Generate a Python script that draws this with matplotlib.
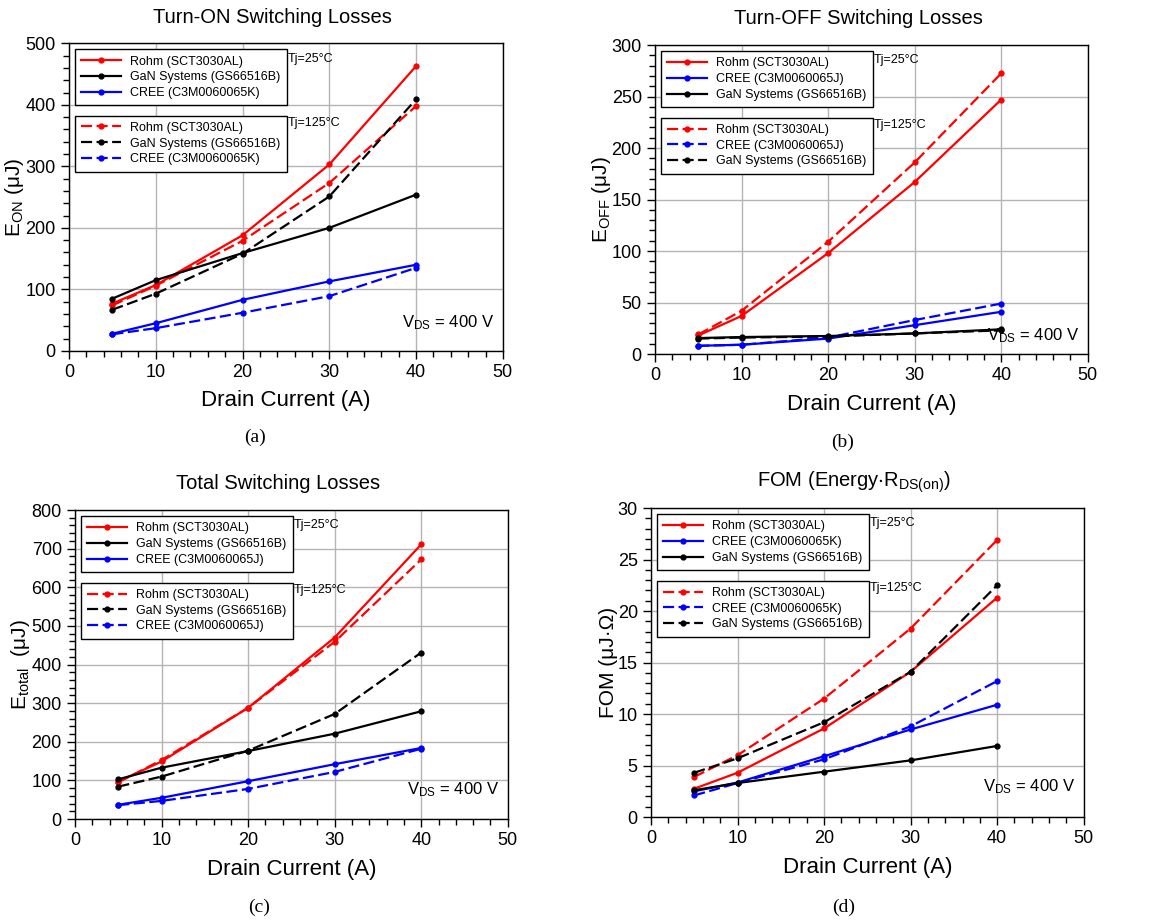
import matplotlib
matplotlib.use('Agg')
import matplotlib.pyplot as plt
from matplotlib.ticker import MultipleLocator

plt.rcParams['font.family'] = ['Liberation Sans', 'DejaVu Sans']
plt.rcParams['mathtext.fontset'] = 'custom'
plt.rcParams['mathtext.rm'] = 'Liberation Sans'
plt.rcParams['mathtext.it'] = 'Liberation Sans:italic'
plt.rcParams['mathtext.default'] = 'regular'

# drain current points
current = [5, 10, 20, 30, 40]

# (a) turn-on losses, uJ
eon_rohm_25 = [77, 107, 188, 303, 463]
eon_gan_25 = [85, 115, 159, 200, 254]
eon_cree_25 = [28, 45, 83, 113, 140]
eon_rohm_125 = [74, 106, 179, 273, 398]
eon_gan_125 = [67, 93, 158, 251, 409]
eon_cree_125 = [27, 37, 62, 89, 135]

# (b) turn-off losses, uJ
eoff_rohm_25 = [18, 37, 98, 167, 247]
eoff_cree_25 = [8, 9, 15, 28, 41]
eoff_gan_25 = [15.5, 16.5, 17.5, 20, 24]
eoff_rohm_125 = [19, 42, 109, 186, 272.5]
eoff_cree_125 = [8, 9, 16, 33, 49]
eoff_gan_125 = [15, 16, 17, 20, 23]

# (c) total losses, uJ
etot_rohm_25 = [97, 149, 288, 470, 711]
etot_gan_25 = [103, 133, 176, 221, 279]
etot_cree_25 = [37, 55, 98, 142, 184]
etot_rohm_125 = [95, 153, 288, 459, 672]
etot_gan_125 = [84, 110, 177, 272, 431]
etot_cree_125 = [36, 47, 78, 122, 182]

# (d) FOM, uJ*Ohm
fom_rohm_25 = [2.75, 4.3, 8.6, 14.1, 21.3]
fom_cree_25 = [2.5, 3.35, 5.9, 8.5, 10.9]
fom_gan_25 = [2.6, 3.3, 4.4, 5.5, 6.9]
fom_rohm_125 = [3.9, 6.0, 11.5, 18.3, 26.9]
fom_cree_125 = [2.1, 3.3, 5.6, 8.8, 13.2]
fom_gan_125 = [4.3, 5.7, 9.2, 14.1, 22.5]

RED = '#ff0000'
BLUE = '#0000ff'
BLACK = '#000000'

fig = plt.figure(figsize=(11.6, 9.21), dpi=100)

rects = [[0.0595, 0.619, 0.374, 0.334],
         [0.5647, 0.6156, 0.373, 0.3355],
         [0.0647, 0.1107, 0.373, 0.3355],
         [0.5612, 0.1129, 0.373, 0.3355]]

panels = [
    dict(title='Turn-ON Switching Losses', ylabel=r'E$_{\mathrm{ON}}$ (μJ)', ylim=500, major=100, minor=20,
         ylx=-0.10, vy=0.06,
         series=[('Rohm (SCT3030AL)', RED, eon_rohm_25, eon_rohm_125),
                 ('GaN Systems (GS66516B)', BLACK, eon_gan_25, eon_gan_125),
                 ('CREE (C3M0060065K)', BLUE, eon_cree_25, eon_cree_125)]),
    dict(title='Turn-OFF Switching Losses', ylabel=r'E$_{\mathrm{OFF}}$ (μJ)', ylim=300, major=50, minor=10,
         ylx=-0.097, vy=0.03,
         series=[('Rohm (SCT3030AL)', RED, eoff_rohm_25, eoff_rohm_125),
                 ('CREE (C3M0060065J)', BLUE, eoff_cree_25, eoff_cree_125),
                 ('GaN Systems (GS66516B)', BLACK, eoff_gan_25, eoff_gan_125)]),
    dict(title='Total Switching Losses', ylabel=r'E$_{\mathrm{total}}$  (μJ)', ylim=800, major=100, minor=20,
         ylx=-0.099, vy=0.065,
         series=[('Rohm (SCT3030AL)', RED, etot_rohm_25, etot_rohm_125),
                 ('GaN Systems (GS66516B)', BLACK, etot_gan_25, etot_gan_125),
                 ('CREE (C3M0060065J)', BLUE, etot_cree_25, etot_cree_125)]),
    dict(title=r'FOM (Energy$\cdot$R$_{\mathrm{DS(on)}}$)', ylabel='FOM (μJ·Ω)', ylim=30, major=5, minor=1,
         ylx=-0.076, vy=0.068,
         series=[('Rohm (SCT3030AL)', RED, fom_rohm_25, fom_rohm_125),
                 ('CREE (C3M0060065K)', BLUE, fom_cree_25, fom_cree_125),
                 ('GaN Systems (GS66516B)', BLACK, fom_gan_25, fom_gan_125)]),
]

for rect, p in zip(rects, panels):
    ax = fig.add_axes(rect)
    h25 = []
    h125 = []
    for name, col, v25, v125 in p['series']:
        l1, = ax.plot(current, v25, '-', color=col, lw=1.6, marker='o', ms=3.5, label=name)
        l2, = ax.plot(current, v125, '--', color=col, lw=1.6, marker='o', ms=3.5,
                      dashes=(5, 2), label=name)
        h25.append(l1)
        h125.append(l2)

    ax.set_xlim(0, 50)
    ax.set_ylim(0, p['ylim'])
    ax.xaxis.set_major_locator(MultipleLocator(10))
    ax.xaxis.set_minor_locator(MultipleLocator(2))
    ax.yaxis.set_major_locator(MultipleLocator(p['major']))
    ax.yaxis.set_minor_locator(MultipleLocator(p['minor']))
    ax.grid(True, which='major', color='#b4b4b4', lw=1.0)
    ax.set_axisbelow(True)
    ax.tick_params(which='major', length=6, width=1, labelsize=13, direction='out')
    ax.tick_params(which='minor', length=4, width=1, direction='out')
    for s in ax.spines.values():
        s.set_linewidth(1.0)

    ax.set_xlabel('Drain Current (A)', fontsize=16)
    ax.xaxis.set_label_coords(0.5, -0.128)
    ax.set_ylabel(p['ylabel'], fontsize=15)
    ax.yaxis.set_label_coords(p['ylx'], 0.5)
    ax.text(0.47, 1.085, p['title'], transform=ax.transAxes, ha='center', va='center', fontsize=14.5)

    leg_kw = dict(loc='upper left', fontsize=9, handlelength=3.2, labelspacing=0.3,
                  borderaxespad=0, fancybox=False, framealpha=1, edgecolor='black',
                  borderpad=0.5, handletextpad=0.7)
    leg1 = ax.legend(handles=h25, bbox_to_anchor=(0.014, 0.98), **leg_kw)
    leg1.get_frame().set_linewidth(1.0)
    ax.add_artist(leg1)
    leg2 = ax.legend(handles=h125, bbox_to_anchor=(0.014, 0.765), **leg_kw)
    leg2.get_frame().set_linewidth(1.0)

    ax.text(0.505, 0.95, 'Tj=25°C', transform=ax.transAxes, fontsize=9, va='center')
    ax.text(0.505, 0.74, 'Tj=125°C', transform=ax.transAxes, fontsize=9, va='center')
    ax.text(0.98, p['vy'], r'V$_{\mathrm{DS}}$ = 400 V', transform=ax.transAxes,
            ha='right', va='bottom', fontsize=12)

for lab, x, y in [('(a)', 0.22, 0.525), ('(b)', 0.726, 0.52), ('(c)', 0.223, 0.015), ('(d)', 0.727, 0.015)]:
    fig.text(x, y, lab, ha='center', va='center', fontsize=14, family='Liberation Serif')

fig.savefig('out.png', dpi=100)
